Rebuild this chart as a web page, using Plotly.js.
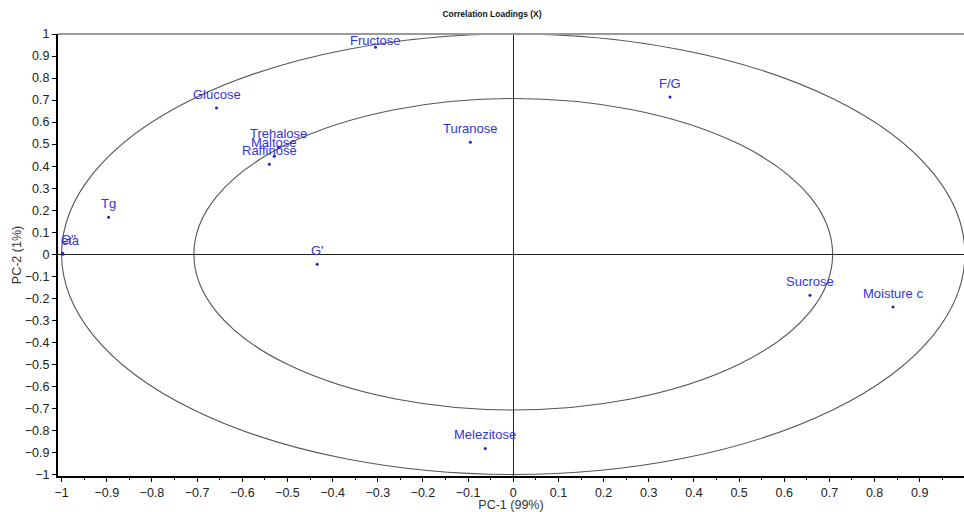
<!DOCTYPE html>
<html>
<head>
<meta charset="utf-8">
<script src="https://cdn.plot.ly/plotly-3.0.1.min.js"></script>
<style>html,body{margin:0;padding:0;background:#fff;}#chart{width:964px;height:512px;}</style>
</head>
<body>
<div id="chart"></div>
<script>
// Variable names and their correlation loadings
var names = ["Fructose","Glucose","Trehalose","Maltose","Raffinose","Turanose","F/G","Tg","G''","eta","G'","Sucrose","Moisture c","Melezitose"];
var pc1 = [-0.305,-0.657,-0.520,-0.529,-0.540,-0.095,0.347,-0.896,-0.998,-0.997,-0.434,0.657,0.841,-0.062];
var pc2 = [0.940,0.664,0.486,0.445,0.409,0.509,0.714,0.168,0.005,0.000,-0.045,-0.186,-0.240,-0.882];
// Correlation circles: 100% and 50% explained variance
var circleRadii = [1, 0.7071];
var xTickVals = [-1,-0.9,-0.8,-0.7,-0.6,-0.5,-0.4,-0.3,-0.2,-0.1,0,0.1,0.2,0.3,0.4,0.5,0.6,0.7,0.8,0.9];
var yTickVals = [-1,-0.9,-0.8,-0.7,-0.6,-0.5,-0.4,-0.3,-0.2,-0.1,0,0.1,0.2,0.3,0.4,0.5,0.6,0.7,0.8,0.9,1];

var W = 964, H = 512;
var margin = {l:58, r:0, t:34, b:36};
var xRange = [-1.008, 0.998];
var yRange = [-1.007, 1.0];
var pxPerY = (H - margin.t - margin.b) / (yRange[1] - yRange[0]);

var labelColor = "#3434da";

var trace = {
  type: "scatter", mode: "markers",
  x: pc1, y: pc2, text: names,
  marker: {size: 3, color: "#2020c0"},
  hoverinfo: "text", showlegend: false
};

var annotations = names.map(function(n, i){
  var x = pc1[i], y = pc2[i];
  var ys = Math.min(13.5, (yRange[1] - y) * pxPerY - 7);
  var a = {
    x: x, y: y, xref: "x", yref: "y", text: n, showarrow: false,
    xanchor: "center", yanchor: "middle", yshift: ys,
    font: {family: "Liberation Sans, Arial, sans-serif", size: 13, color: labelColor}
  };
  if (x < -0.98) { a.x = xRange[0]; a.xanchor = "left"; a.xshift = 1; }
  return a;
});

var shapes = circleRadii.map(function(r){
  return {type: "circle", xref: "x", yref: "y", x0: -r, x1: r, y0: -r, y1: r,
          line: {color: "#555555", width: 1.1}, layer: "below"};
});
shapes.push({type: "line", xref: "paper", yref: "paper", x0: 0, x1: 1, y0: 1, y1: 1,
             line: {color: "#9a9a9a", width: 2}});

var tickFont = {family: "Liberation Sans, Arial, sans-serif", size: 12.5, color: "#222"};

var layout = {
  width: W, height: H, margin: margin,
  paper_bgcolor: "#fff", plot_bgcolor: "#fff",
  title: {text: "<b>Correlation Loadings (X)</b>", x: 492/964, xref: "container", xanchor: "center",
          y: 1 - 14/512, yref: "container", yanchor: "middle",
          font: {family: "Liberation Sans, Arial, sans-serif", size: 8.5, color: "#111"}},
  xaxis: {
    range: xRange, tickmode: "array", tickvals: xTickVals,
    ticks: "outside", ticklen: 4, tickcolor: "#000", tickwidth: 1,
    minor: {dtick: 0.05, tick0: 0, ticks: "outside", ticklen: 2, tickcolor: "#000", showgrid: false},
    showgrid: false, zeroline: true, zerolinecolor: "#222", zerolinewidth: 1,
    showline: true, linecolor: "#000", linewidth: 2,
    tickfont: tickFont,
    title: {text: "PC-1 (99%)", font: {family: "Liberation Sans, Arial, sans-serif", size: 12.5, color: "#333"}, standoff: 2}
  },
  yaxis: {
    range: yRange, tickmode: "array", tickvals: yTickVals,
    ticks: "outside", ticklen: 4, tickcolor: "#000", tickwidth: 1,
    showgrid: false, zeroline: true, zerolinecolor: "#222", zerolinewidth: 1,
    showline: true, linecolor: "#000", linewidth: 2,
    tickfont: tickFont,
    title: {text: "PC-2 (1%)", font: {family: "Liberation Sans, Arial, sans-serif", size: 12.5, color: "#333"}, standoff: 0}
  },
  shapes: shapes,
  annotations: annotations
};

Plotly.newPlot("chart", [trace], layout, {displayModeBar: false, staticPlot: true});
</script>
</body>
</html>
